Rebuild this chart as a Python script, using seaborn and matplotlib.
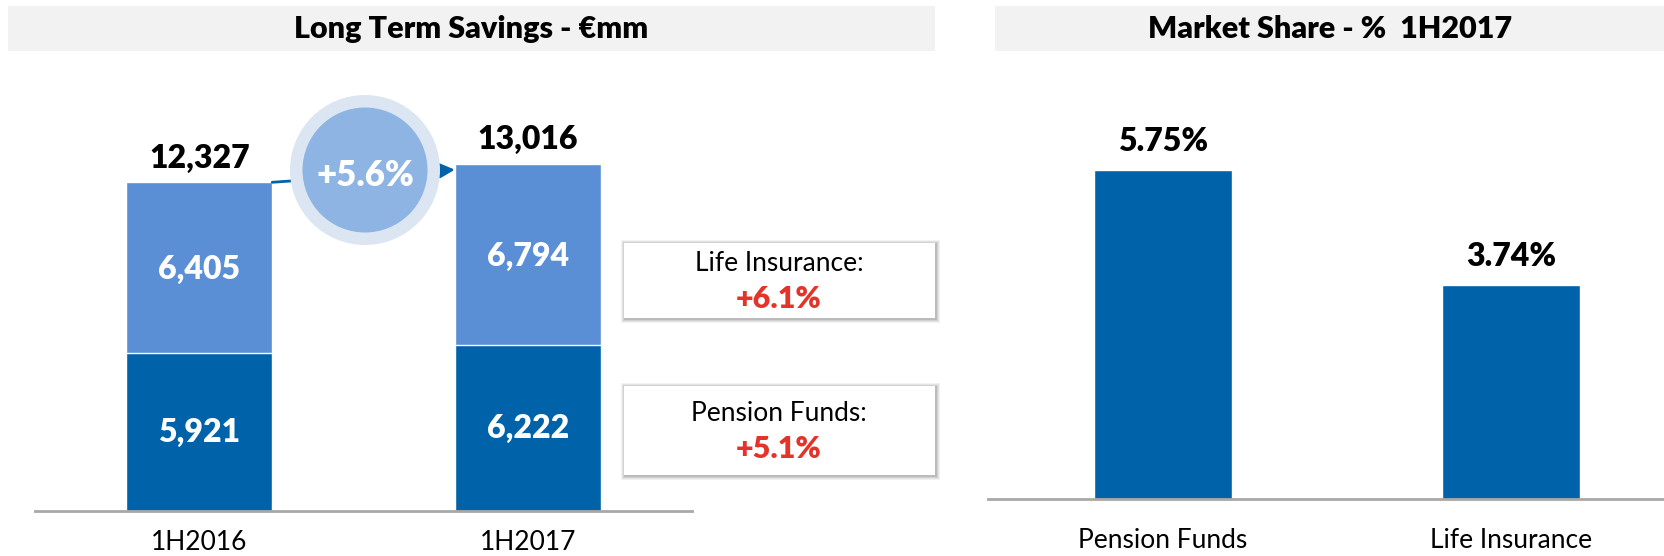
import matplotlib
matplotlib.use('Agg')
import matplotlib.pyplot as plt
from matplotlib.patches import Rectangle, Circle
import seaborn as sns
import pandas as pd

# data
periods = ['1H2016', '1H2017']
pension_funds = [5921, 6222]
life_insurance = [6405, 6794]
totals = [12327, 13016]
total_growth = '+5.6%'
segment_names = ['Life Insurance:', 'Pension Funds:']
segment_growth = ['+6.1%', '+5.1%']
share_labels = ['Pension Funds', 'Life Insurance']
share_values = [5.75, 3.74]

DARK = '#0062A8'
LIGHT = '#5A8FD5'
RED = '#E5332A'
GREY_BAR = '#F2F2F2'
AXIS = '#A8A8A8'

sns.set_style('white')
plt.rcParams['font.family'] = ['Lato', 'DejaVu Sans']
plt.rcParams['text.color'] = 'black'
plt.rcParams['xtick.color'] = 'black'

W, H = 1665, 556
fig = plt.figure(figsize=(W / 100, H / 100), dpi=100)


def fx(px):
    return px / W


def fy(py):
    # py counted from the top of the picture
    return 1 - py / H


# title bars
for x0, x1, title in [(8, 935, 'Long Term Savings - €mm'), (995, 1665, 'Market Share - %  1H2017')]:
    fig.add_artist(Rectangle((fx(x0), fy(51)), fx(x1 - x0), 45 / H,
                             transform=fig.transFigure, color=GREY_BAR, lw=0))
    fig.text(fx((x0 + x1) / 2), fy(29), title, ha='center', va='center',
             fontsize=22, fontweight='heavy')

# ---- left: stacked savings bars
ax1 = fig.add_axes([fx(35), fy(511), fx(692 - 35), (511 - 60) / H])
df = pd.DataFrame({'period': periods, 'pension': pension_funds, 'life': life_insurance})
df['stack'] = df['pension'] + df['life']
sns.barplot(data=df, x='period', y='stack', color=LIGHT, width=0.444, saturation=1, ax=ax1)
sns.barplot(data=df, x='period', y='pension', color=DARK, width=0.444, saturation=1, ax=ax1)
ax1.set_xlim(-0.5, 1.5)
px1 = 37.5  # units per pixel
ax1.set_ylim(0, 451 * px1)

for i in range(len(periods)):
    p, l = pension_funds[i], life_insurance[i]
    ax1.text(i, p / 2, f'{p:,}', ha='center', va='center', color='white',
             fontsize=23, fontweight='heavy')
    ax1.text(i, p + l / 2 - 2 * px1, f'{l:,}', ha='center', va='center', color='white',
             fontsize=23, fontweight='heavy')
    ax1.text(i, p + l + 24 * px1, f'{totals[i]:,}', ha='center', va='center',
             fontsize=23, fontweight='heavy')

ax1.annotate('', xy=(1 - 0.222, 12800), xytext=(0.222, 12327),
             arrowprops=dict(arrowstyle='-|>', color=DARK, lw=2,
                             mutation_scale=22, shrinkA=0, shrinkB=0))

# growth bubble
fig.add_artist(Circle((3.65, 5.56 - 1.70), 0.75, transform=fig.dpi_scale_trans,
                      color='#DCE6F2', lw=0))
fig.add_artist(Circle((3.65, 5.56 - 1.70), 0.625, transform=fig.dpi_scale_trans,
                      color='#8EB4E3', lw=0))
fig.text(fx(365), fy(176), total_growth, ha='center', va='center', color='white',
         fontsize=25, fontweight='heavy')

# growth boxes with soft shadow
boxes = [(243, 318), (386, 475)]
for (top, bot), name, g in zip(boxes, segment_names, segment_growth):
    for k, a in [(5, 0.05), (4, 0.06), (3, 0.08), (2, 0.1)]:
        fig.add_artist(Rectangle((fx(624 - k + 2), fy(bot + k)), fx(311 + 2 * k - 2), (bot - top + 2 * k - 2) / H,
                                 transform=fig.transFigure, color='black', alpha=a, lw=0))
    fig.add_artist(Rectangle((fx(624), fy(bot)), fx(311), (bot - top) / H,
                             transform=fig.transFigure, color='white', lw=0))
    mid = (top + bot) / 2
    fig.text(fx(779), fy(mid - 17), name, ha='center', va='center', fontsize=19)
    fig.text(fx(779), fy(mid + 18), g, ha='center', va='center', color=RED,
             fontsize=22, fontweight='heavy')

# ---- right: market share bars
ax2 = fig.add_axes([fx(988), fy(499), fx(677), (499 - 60) / H])
sns.barplot(x=share_labels, y=share_values, color=DARK, width=0.397, saturation=1, ax=ax2)
ax2.set_xlim(-0.503, 1.443)
px2 = 0.01748
ax2.set_ylim(0, 439 * px2)
for i, v in enumerate(share_values):
    ax2.text(i, v + 29 * px2, f'{v:.2f}%', ha='center', va='center',
             fontsize=23, fontweight='heavy')

for ax, pad in [(ax1, 14), (ax2, 21)]:
    sns.despine(ax=ax, left=True)
    ax.spines['bottom'].set_color(AXIS)
    ax.spines['bottom'].set_linewidth(2)
    ax.set_xlabel('')
    ax.set_ylabel('')
    ax.set_yticks([])
    ax.tick_params(axis='x', length=0, pad=pad, labelsize=19, labelcolor='black')

fig.savefig('out.png', dpi=100)
